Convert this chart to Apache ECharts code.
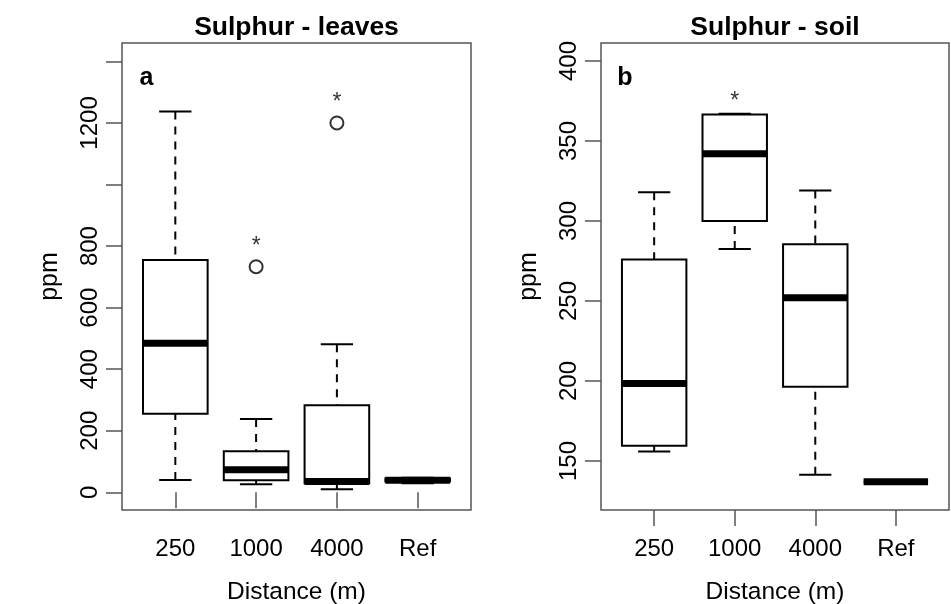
<!DOCTYPE html>
<html>
<head>
<meta charset="utf-8">
<script src="https://cdn.jsdelivr.net/npm/echarts@6/dist/echarts.min.js"></script>
<style>
html, body { margin: 0; padding: 0; background: #fff; }
#chart { width: 951px; height: 604px; }
</style>
</head>
<body>
<div id="chart"></div>
<script>
// Distance classes on the x axis
const categories = ['250', '1000', '4000', 'Ref'];

// Sulphur in leaves (ppm): [lower whisker, Q1, median, Q3, upper whisker]
const leaves250  = [40, 255, 484, 755, 1237];
const leaves1000 = [26, 39, 73, 133, 238];
const leaves4000 = [10, 29, 35, 283, 481];
const leavesRef  = [29, 35, 39, 45, 47];
// outliers: [category position, ppm]
const leavesOutliers = [[2, 733], [3, 1200]];
// significance stars: [category position, ppm]
const leavesStars = [[2, 798], [3, 1266]];

// Sulphur in soil (ppm)
const soil250  = [156, 159.5, 198.5, 276, 318];
const soil1000 = [282.5, 300, 342, 366.5, 367];
const soil4000 = [141.5, 196.5, 252, 285.5, 319];
const soilRef  = [137, 137, 137, 137, 137];
const soilOutliers = [];
const soilStars = [[2, 374.5]];

// axis ticks and labels
const leavesTicks = [0, 200, 400, 600, 800, 1000, 1200, 1400];
const leavesTickLabels = [0, 200, 400, 600, 800, 1200];
const soilTicks = [150, 200, 250, 300, 350, 400];
const soilTickLabels = [150, 200, 250, 300, 350, 400];
const xTicks = [1, 2, 3, 4];

const FONT = '"Liberation Sans", Arial, Helvetica, sans-serif';
const FRAME = '#555555';

function boxRows(list) {
  return list.map((s, i) => [i + 1].concat(s));
}

function renderBox(params, api) {
  const x = api.value(0);
  const v = [1, 2, 3, 4, 5].map(i => api.value(i));
  const half = api.size([0.4, 0])[0];
  const cap = half / 2;
  const cx = api.coord([x, v[0]])[0];
  const y = v.map(val => api.coord([x, val])[1]);
  const solid = { stroke: '#000', lineWidth: 2, fill: null };
  const dashed = { stroke: '#000', lineWidth: 2, lineDash: [8, 7], fill: null };
  const children = [];
  // whiskers run from their ends towards the box
  if (y[0] !== y[1]) {
    children.push({ type: 'line', shape: { x1: cx, y1: y[0], x2: cx, y2: y[1] }, style: dashed });
  }
  if (y[4] !== y[3]) {
    children.push({ type: 'line', shape: { x1: cx, y1: y[4], x2: cx, y2: y[3] }, style: dashed });
  }
  children.push({ type: 'line', shape: { x1: cx - cap, y1: y[0], x2: cx + cap, y2: y[0] }, style: solid });
  children.push({ type: 'line', shape: { x1: cx - cap, y1: y[4], x2: cx + cap, y2: y[4] }, style: solid });
  children.push({
    type: 'rect',
    shape: { x: cx - half, y: y[3], width: 2 * half, height: y[1] - y[3] },
    style: { stroke: '#000', lineWidth: 2, fill: 'none' }
  });
  children.push({
    type: 'line',
    shape: { x1: cx - half, y1: y[2], x2: cx + half, y2: y[2] },
    style: { stroke: '#000', lineWidth: 7, lineCap: 'butt' }
  });
  return { type: 'group', children };
}

function yAxisFor(gridIndex, min, max, ticks, labels) {
  return {
    type: 'value', gridIndex, min, max,
    axisLine: { show: false },
    splitLine: { show: false },
    axisTick: { show: true, inside: false, length: 16, customValues: ticks, lineStyle: { color: FRAME, width: 1.5 } },
    axisLabel: {
      show: true, customValues: labels, rotate: 90, margin: 20,
      fontSize: 24, color: '#000', fontFamily: FONT,
      formatter: v => String(v)
    },
    name: 'ppm', nameLocation: 'middle', nameGap: 59,
    nameTextStyle: { fontSize: 25, color: '#000', fontFamily: FONT }
  };
}

function xAxisFor(gridIndex) {
  return {
    type: 'value', gridIndex, min: 0.34, max: 4.66,
    axisLine: { show: false },
    splitLine: { show: false },
    axisTick: { show: true, length: 16, customValues: xTicks, lineStyle: { color: FRAME, width: 1.5 } },
    axisLabel: {
      show: true, customValues: xTicks, margin: 27,
      fontSize: 24, color: '#000', fontFamily: FONT,
      formatter: v => categories[Math.round(v) - 1]
    },
    name: 'Distance (m)', nameLocation: 'middle', nameGap: 70,
    nameTextStyle: { fontSize: 24.5, color: '#000', fontFamily: FONT }
  };
}

function outlierSeries(idx, data) {
  return {
    type: 'scatter', xAxisIndex: idx, yAxisIndex: idx, data,
    symbol: 'circle', symbolSize: 13,
    itemStyle: { color: '#fff', borderColor: '#000', borderWidth: 2 },
    silent: true, z: 5
  };
}

function starSeries(idx, data) {
  return {
    type: 'scatter', xAxisIndex: idx, yAxisIndex: idx, data,
    symbolSize: 0,
    label: {
      show: true, position: 'inside', formatter: '*',
      fontSize: 23, color: '#000', fontFamily: FONT
    },
    silent: true, z: 6
  };
}

const chart = echarts.init(document.getElementById('chart'), null, { renderer: 'canvas' });

const gridBase = {
  top: 43, height: 467, show: true, borderColor: FRAME, borderWidth: 1.5,
  backgroundColor: 'transparent', containLabel: false, outerBoundsMode: 'none'
};

chart.setOption({
  animation: false,
  backgroundColor: '#fff',
  grid: [
    Object.assign({ left: 122, width: 349 }, gridBase),
    Object.assign({ left: 601, width: 348 }, gridBase)
  ],
  xAxis: [xAxisFor(0), xAxisFor(1)],
  yAxis: [
    yAxisFor(0, -57.5, 1459.7, leavesTicks, leavesTickLabels),
    yAxisFor(1, 119.4, 411.25, soilTicks, soilTickLabels)
  ],
  graphic: [
    { type: 'text', x: 296.5, y: 28, style: { text: 'Sulphur - leaves', font: 'bold 26.5px ' + FONT, fill: '#000', align: 'center', verticalAlign: 'middle' } },
    { type: 'text', x: 775, y: 28, style: { text: 'Sulphur - soil', font: 'bold 26.5px ' + FONT, fill: '#000', align: 'center', verticalAlign: 'middle' } },
    { type: 'text', x: 146.5, y: 78, style: { text: 'a', font: 'bold 25px ' + FONT, fill: '#000', align: 'center', verticalAlign: 'middle' } },
    { type: 'text', x: 625, y: 78, style: { text: 'b', font: 'bold 25px ' + FONT, fill: '#000', align: 'center', verticalAlign: 'middle' } }
  ],
  series: [
    {
      type: 'custom', xAxisIndex: 0, yAxisIndex: 0, renderItem: renderBox, clip: false,
      encode: { x: 0, y: [1, 2, 3, 4, 5] },
      data: boxRows([leaves250, leaves1000, leaves4000, leavesRef])
    },
    outlierSeries(0, leavesOutliers),
    starSeries(0, leavesStars),
    {
      type: 'custom', xAxisIndex: 1, yAxisIndex: 1, renderItem: renderBox, clip: false,
      encode: { x: 0, y: [1, 2, 3, 4, 5] },
      data: boxRows([soil250, soil1000, soil4000, soilRef])
    },
    outlierSeries(1, soilOutliers),
    starSeries(1, soilStars)
  ]
});
</script>
</body>
</html>
